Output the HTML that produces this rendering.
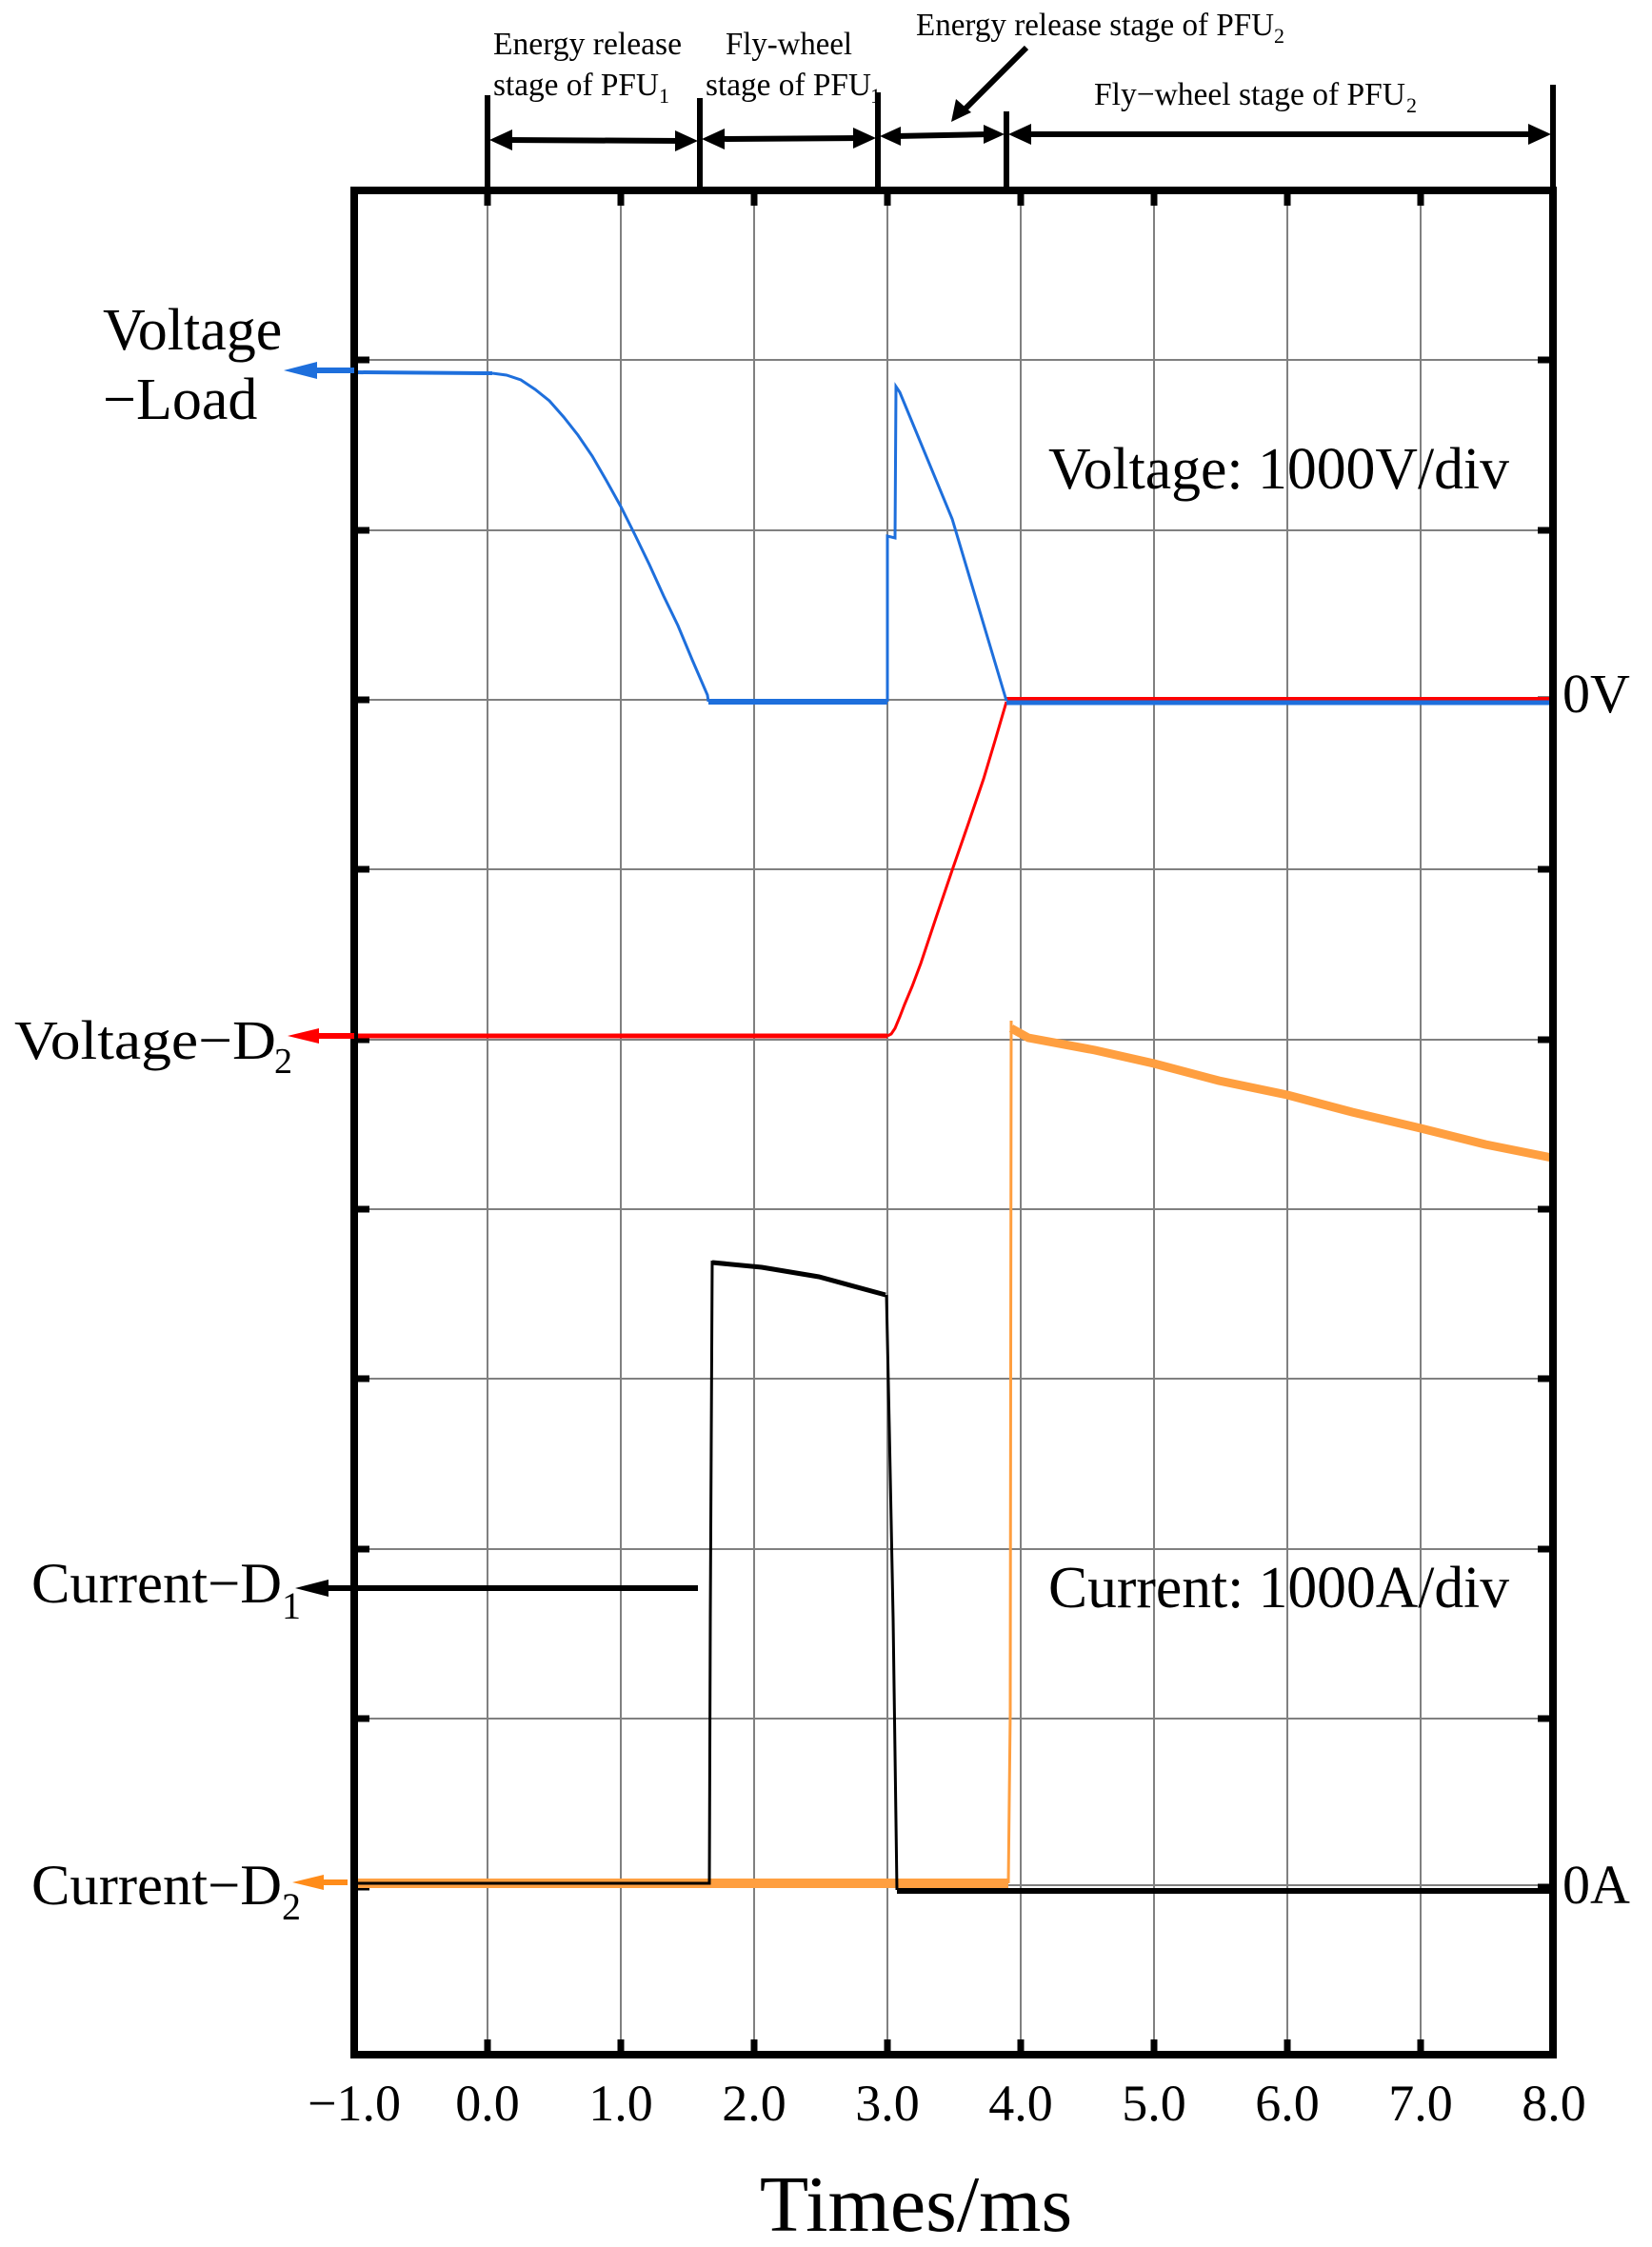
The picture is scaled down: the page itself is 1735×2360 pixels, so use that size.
<!DOCTYPE html>
<html><head><meta charset="utf-8"><style>
html,body{margin:0;padding:0;background:#fff}
svg{display:block}
text{font-family:"Liberation Serif",serif;fill:#000}
</style></head><body>
<svg width="1735" height="2360" viewBox="0 0 1735 2360" xmlns="http://www.w3.org/2000/svg">
<rect width="1735" height="2360" fill="#fff"/>
<g stroke="#808080" stroke-width="2">
<line x1="512" y1="200" x2="512" y2="2158"/><line x1="652" y1="200" x2="652" y2="2158"/>
<line x1="792" y1="200" x2="792" y2="2158"/><line x1="932" y1="200" x2="932" y2="2158"/>
<line x1="1072" y1="200" x2="1072" y2="2158"/><line x1="1212" y1="200" x2="1212" y2="2158"/>
<line x1="1352" y1="200" x2="1352" y2="2158"/><line x1="1492" y1="200" x2="1492" y2="2158"/>
<line x1="372" y1="378" x2="1631" y2="378"/><line x1="372" y1="557" x2="1631" y2="557"/>
<line x1="372" y1="735" x2="1631" y2="735"/><line x1="372" y1="913" x2="1631" y2="913"/>
<line x1="372" y1="1092" x2="1631" y2="1092"/><line x1="372" y1="1270" x2="1631" y2="1270"/>
<line x1="372" y1="1448" x2="1631" y2="1448"/><line x1="372" y1="1627" x2="1631" y2="1627"/>
<line x1="372" y1="1805" x2="1631" y2="1805"/><line x1="372" y1="1980" x2="1631" y2="1980"/>
</g>
<g stroke="#000" stroke-width="7">
<line x1="372" y1="378" x2="388" y2="378"/><line x1="372" y1="557" x2="388" y2="557"/><line x1="372" y1="735" x2="388" y2="735"/><line x1="372" y1="913" x2="388" y2="913"/><line x1="372" y1="1092" x2="388" y2="1092"/><line x1="372" y1="1270" x2="388" y2="1270"/><line x1="372" y1="1448" x2="388" y2="1448"/><line x1="372" y1="1627" x2="388" y2="1627"/><line x1="372" y1="1805" x2="388" y2="1805"/><line x1="372" y1="1982" x2="388" y2="1982"/>
<line x1="1615" y1="378" x2="1631" y2="378"/><line x1="1615" y1="557" x2="1631" y2="557"/><line x1="1615" y1="735" x2="1631" y2="735"/><line x1="1615" y1="913" x2="1631" y2="913"/><line x1="1615" y1="1092" x2="1631" y2="1092"/><line x1="1615" y1="1270" x2="1631" y2="1270"/><line x1="1615" y1="1448" x2="1631" y2="1448"/><line x1="1615" y1="1627" x2="1631" y2="1627"/><line x1="1615" y1="1805" x2="1631" y2="1805"/><line x1="1615" y1="1982" x2="1631" y2="1982"/>
<line x1="512" y1="200" x2="512" y2="216"/><line x1="652" y1="200" x2="652" y2="216"/><line x1="792" y1="200" x2="792" y2="216"/><line x1="932" y1="200" x2="932" y2="216"/><line x1="1072" y1="200" x2="1072" y2="216"/><line x1="1212" y1="200" x2="1212" y2="216"/><line x1="1352" y1="200" x2="1352" y2="216"/><line x1="1492" y1="200" x2="1492" y2="216"/>
<line x1="512" y1="2142" x2="512" y2="2158"/><line x1="652" y1="2142" x2="652" y2="2158"/><line x1="792" y1="2142" x2="792" y2="2158"/><line x1="932" y1="2142" x2="932" y2="2158"/><line x1="1072" y1="2142" x2="1072" y2="2158"/><line x1="1212" y1="2142" x2="1212" y2="2158"/><line x1="1352" y1="2142" x2="1352" y2="2158"/><line x1="1492" y1="2142" x2="1492" y2="2158"/>
</g>
<polyline fill="none" stroke="#ff9f40" stroke-width="10" points="372,1978 1059,1978"/>
<polyline fill="none" stroke="#ff9f40" stroke-width="3" points="1059,1978 1061,1800 1062,1072"/>
<polyline fill="none" stroke="#ff9f40" stroke-width="9" points="1062,1080 1080,1090 1150,1103 1212,1117 1280,1135 1352,1150 1420,1168 1492,1185 1560,1202 1630,1216"/>
<polyline fill="none" stroke="#000" stroke-width="3" points="372,1978 745,1978 746,1700 748,1324"/>
<polyline fill="none" stroke="#000" stroke-width="5" points="748,1326 800,1331 860,1341 930,1360"/>
<polyline fill="none" stroke="#000" stroke-width="3" points="931,1360 934,1500 938,1700 942,1985"/>
<polyline fill="none" stroke="#000" stroke-width="6" points="942,1986 1630,1986"/>
<polyline fill="none" stroke="#ff0000" stroke-width="5" points="372,1088 932,1088"/>
<polyline fill="none" stroke="#ff0000" stroke-width="3" points="932,1088 936,1086 940,1080 945,1068 950,1055 958,1036 967,1012 983,964 1000,914 1017,865 1033,818 1045,778 1057,737"/>
<polyline fill="none" stroke="#ff0000" stroke-width="4" points="1057,734 1630,734"/>
<polyline fill="none" stroke="#1e6fdc" stroke-width="4" points="372,391 517,392"/>
<polyline fill="none" stroke="#1e6fdc" stroke-width="3" points="517,392 532,394 547,399 562,409 577,421 592,438 607,457 622,479 637,505 652,532 667,562 682,593 697,626 712,657 727,693 743,730 744,737"/>
<polyline fill="none" stroke="#1e6fdc" stroke-width="6" points="744,737 932,737"/>
<polyline fill="none" stroke="#1e6fdc" stroke-width="3" points="932,737 932,563 940,565 941,406 945,412 1000,545 1057,736"/>
<polyline fill="none" stroke="#1e6fdc" stroke-width="5" points="1057,738 1630,738"/>
<rect x="372" y="200" width="1259" height="1958" fill="none" stroke="#000" stroke-width="8"/>
<g stroke="#000" stroke-width="6">
<line x1="512" y1="100" x2="512" y2="200"/><line x1="735" y1="103" x2="735" y2="200"/>
<line x1="922" y1="97" x2="922" y2="200"/><line x1="1057" y1="117" x2="1057" y2="200"/>
<line x1="1631" y1="89" x2="1631" y2="200"/>
<line x1="530" y1="147" x2="717" y2="148"/><line x1="753" y1="146" x2="904" y2="145"/>
<line x1="940" y1="143" x2="1039" y2="141"/><line x1="1075" y1="141" x2="1613" y2="141"/>
<line x1="1078" y1="50" x2="1010" y2="118"/>
</g>
<g fill="#000">
<polygon points="514,147 538,136 538,158"/><polygon points="733,148 709,137 709,159"/>
<polygon points="737,146 761,135 761,157"/><polygon points="920,145 896,134 896,156"/>
<polygon points="924,143 946,133 946,153"/><polygon points="1055,141 1033,131 1033,151"/>
<polygon points="1059,141 1083,130 1083,152"/><polygon points="1629,141 1605,130 1605,152"/>
<polygon points="999,128 1004,104 1020,118"/>
</g>
<line x1="372" y1="389" x2="330" y2="389" stroke="#1e6fdc" stroke-width="6"/>
<polygon points="298,389 333,380 333,398" fill="#1e6fdc"/>
<line x1="372" y1="1088" x2="330" y2="1088" stroke="#ff0000" stroke-width="6"/>
<polygon points="302,1088 335,1080 335,1096" fill="#ff0000"/>
<line x1="733" y1="1668" x2="335" y2="1668" stroke="#000" stroke-width="6"/>
<polygon points="310,1668 345,1659 345,1677" fill="#000"/>
<line x1="365" y1="1977" x2="330" y2="1977" stroke="#ff8c1a" stroke-width="6"/>
<polygon points="307,1977 340,1969 340,1985" fill="#ff8c1a"/>
<text x="518" y="57" font-size="34" textLength="198" lengthAdjust="spacingAndGlyphs">Energy release</text>
<text x="518" y="100" font-size="34" textLength="174" lengthAdjust="spacingAndGlyphs">stage of PFU</text><text x="692" y="108" font-size="22">1</text>
<text x="762" y="57" font-size="34" textLength="133" lengthAdjust="spacingAndGlyphs">Fly-wheel</text>
<text x="741" y="100" font-size="34" textLength="174" lengthAdjust="spacingAndGlyphs">stage of PFU</text><text x="914" y="108" font-size="22">1</text>
<text x="962" y="37" font-size="34" textLength="376" lengthAdjust="spacingAndGlyphs">Energy release stage of PFU</text><text x="1338" y="45" font-size="22">2</text>
<text x="1149" y="110" font-size="34" textLength="327" lengthAdjust="spacingAndGlyphs">Fly−wheel stage of PFU</text><text x="1477" y="118" font-size="22">2</text>
<text x="108" y="367" font-size="62">Voltage</text>
<text x="108" y="440" font-size="62">−Load</text>
<text x="15" y="1112" font-size="58" textLength="275" lengthAdjust="spacingAndGlyphs">Voltage−D</text><text x="288" y="1127" font-size="38">2</text>
<text x="33" y="1683" font-size="60" textLength="263" lengthAdjust="spacingAndGlyphs">Current−D</text><text x="296" y="1700" font-size="40">1</text>
<text x="33" y="2000" font-size="60" textLength="263" lengthAdjust="spacingAndGlyphs">Current−D</text><text x="296" y="2016" font-size="40">2</text>
<text x="1101" y="513" font-size="62" textLength="484" lengthAdjust="spacingAndGlyphs">Voltage: 1000V/div</text>
<text x="1101" y="1688" font-size="62" textLength="484" lengthAdjust="spacingAndGlyphs">Current: 1000A/div</text>
<text x="1641" y="748" font-size="58">0V</text>
<text x="1641" y="1999" font-size="58">0A</text>
<g font-size="54" text-anchor="middle">
<text x="372" y="2227">−1.0</text><text x="512" y="2227">0.0</text><text x="652" y="2227">1.0</text>
<text x="792" y="2227">2.0</text><text x="932" y="2227">3.0</text><text x="1072" y="2227">4.0</text>
<text x="1212" y="2227">5.0</text><text x="1352" y="2227">6.0</text><text x="1492" y="2227">7.0</text>
<text x="1632" y="2227">8.0</text>
</g>
<text x="962" y="2343" font-size="84" text-anchor="middle">Times/ms</text>
</svg>
</body></html>
